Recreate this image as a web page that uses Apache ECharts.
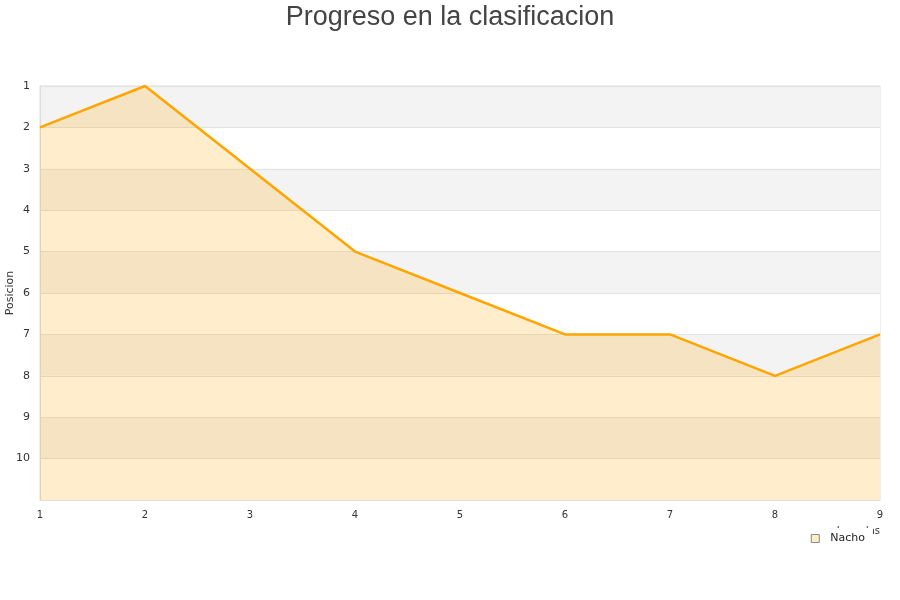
<!DOCTYPE html>
<html>
<head>
<meta charset="utf-8">
<script src="https://cdn.jsdelivr.net/npm/echarts@6/dist/echarts.min.js"></script>
<style>html,body{margin:0;padding:0;background:#fff}#c{width:900px;height:600px}</style>
</head>
<body>
<div id="c"></div>
<script>
var jornadas = [1, 2, 3, 4, 5, 6, 7, 8, 9];
var posiciones = [2, 1, 3, 5, 6, 7, 7, 8, 7];
var seriesName = 'Nacho';
var titleText = 'Progreso en la clasificacion';

var chart = echarts.init(document.getElementById('c'));
chart.setOption({
  animation: false,
  backgroundColor: '#fff',
  title: {
    text: titleText,
    left: 'center',
    top: -1,
    textStyle: { fontFamily: 'Liberation Sans, Arial, sans-serif', fontSize: 27, fontWeight: 'normal', color: '#444' }
  },
  legend: {
    data: [{ name: seriesName, icon: 'rect', itemStyle: { color: '#feedcc', borderColor: '#888', borderWidth: 1 } }],
    right: 27,
    top: 528,
    itemWidth: 8,
    itemHeight: 8,
    itemGap: 5,
    padding: [5, 8, 3, 5],
    backgroundColor: '#fff',
    textStyle: { fontFamily: 'DejaVu Sans, sans-serif', fontSize: 11, color: '#222', padding: [0, 0, 0, 6] },
    z: 10
  },
  grid: { left: 40, right: 20, top: 86, bottom: 100, containLabel: false, outerBoundsMode: 'none', show: true, borderColor: '#ddd', borderWidth: 1, backgroundColor: 'transparent' },
  xAxis: {
    type: 'value',
    min: 1, max: 9, interval: 1,
    name: 'Jornadas',
    nameLocation: 'end',
    nameGap: 0,
    nameMoveOverlap: false,
    nameTextStyle: { fontFamily: 'DejaVu Sans, sans-serif', fontSize: 10, color: '#333', align: 'right', verticalAlign: 'top', padding: [26, 0, 0, 0] },
    axisLine: { show: true, lineStyle: { color: '#ddd' } },
    axisTick: { show: false },
    splitLine: { show: false },
    axisLabel: { fontFamily: 'DejaVu Sans, sans-serif', fontSize: 10, color: '#333', margin: 10 }
  },
  yAxis: {
    type: 'value',
    inverse: true,
    min: 1, max: 11, interval: 1,
    name: 'Posicion',
    nameLocation: 'middle',
    nameGap: 24,
    nameMoveOverlap: false,
    nameTextStyle: { fontFamily: 'DejaVu Sans, sans-serif', fontSize: 11, color: '#333' },
    axisLine: { show: true, lineStyle: { color: '#ddd' } },
    axisTick: { show: false },
    splitLine: { show: true, lineStyle: { color: '#e2e2e2' } },
    splitArea: { show: true, areaStyle: { color: ['#f3f3f3', '#ffffff'] } },
    axisLabel: {
      fontFamily: 'DejaVu Sans, sans-serif', fontSize: 11, color: '#333', margin: 10,
      formatter: function (v) { return v > 10 ? '' : String(v); }
    }
  },
  series: [{
    name: seriesName,
    type: 'line',
    data: jornadas.map(function (j, i) { return [j, posiciones[i]]; }),
    symbol: 'none',
    lineStyle: { color: '#ffa500', width: 2.5 },
    itemStyle: { color: '#feedcc', borderColor: '#888' },
    areaStyle: { color: '#ffa500', opacity: 0.2, origin: 'end' },
    z: 2
  }]
});
</script>
</body>
</html>
